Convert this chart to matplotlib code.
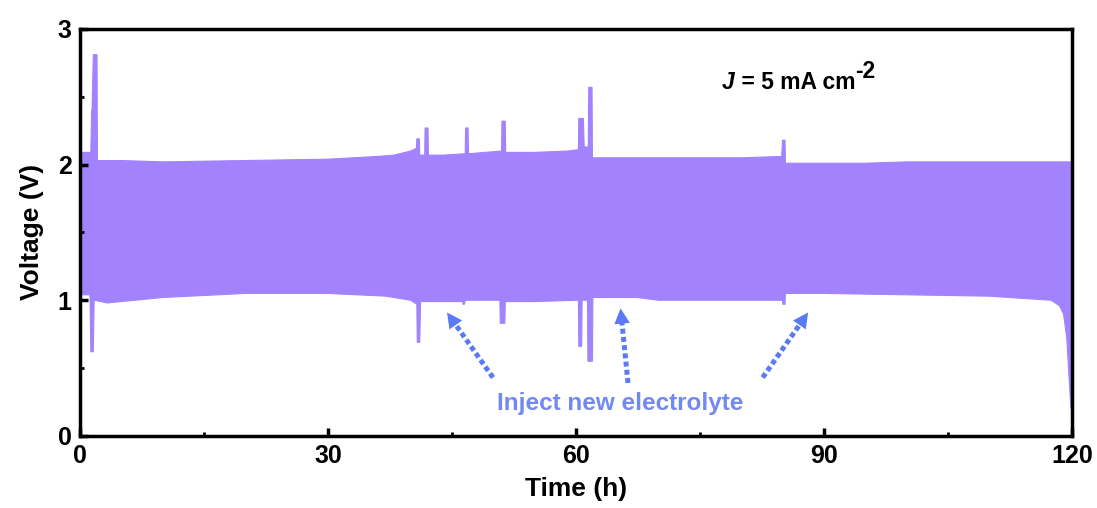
import numpy as np
import matplotlib.pyplot as plt

plt.rcParams['font.family'] = ['Liberation Sans', 'DejaVu Sans']
plt.rcParams['font.weight'] = 'bold'

# upper envelope of the voltage band (time in h, voltage in V)
t_up = [0, 1.2, 1.3, 1.4, 1.45, 1.6, 2.05, 2.1, 5, 10, 20, 30, 36, 38, 40,
        40.7, 40.75, 41.05, 41.1, 41.7, 41.75, 42.1, 42.15, 44, 46.6, 46.65,
        46.95, 47.0, 49, 51.0, 51.05, 51.45, 51.5, 55, 59, 60.3, 60.35, 60.9,
        61.0, 61.5, 61.55, 61.95, 62.0, 65, 70, 80, 84.9, 85.0, 85.3, 85.35,
        88, 95, 100, 110, 115, 119.8, 119.9]
v_up = [2.09, 2.09, 2.09, 2.40, 2.40, 2.81, 2.81, 2.03, 2.03, 2.02, 2.03, 2.04, 2.06, 2.07, 2.10,
        2.12, 2.19, 2.19, 2.07, 2.07, 2.27, 2.27, 2.07, 2.07, 2.08, 2.27,
        2.27, 2.08, 2.09, 2.10, 2.32, 2.32, 2.09, 2.09, 2.10, 2.11, 2.34, 2.34,
        2.13, 2.13, 2.57, 2.57, 2.05, 2.05, 2.05, 2.05, 2.06, 2.18, 2.18, 2.01,
        2.01, 2.01, 2.02, 2.02, 2.02, 2.02, 2.02]

# lower envelope of the voltage band
t_lo = [0, 1.2, 1.3, 1.6, 1.7, 3.3, 10, 20, 30, 37, 40, 40.75, 40.8, 41.1, 41.2,
        44, 46.3, 46.35, 46.5, 46.6, 50.8, 50.85, 51.4, 51.45, 55, 60.3, 60.35,
        60.7, 60.75, 61.4, 61.45, 62.0, 62.05, 67.4, 70, 80, 85.0, 85.05, 85.3,
        85.35, 90, 100, 110, 117.5, 118.5, 119.0, 119.4, 119.7, 119.9]
v_lo = [1.04, 1.04, 0.62, 0.62, 1.0, 0.98, 1.02, 1.05, 1.05, 1.03, 1.00, 0.97, 0.69, 0.69, 0.99,
        0.99, 0.99, 0.97, 0.97, 1.0, 1.0, 0.83, 0.83, 0.99, 0.99, 1.0, 0.66,
        0.66, 1.0, 1.0, 0.55, 0.55, 1.02, 1.02, 1.0, 1.0, 1.0, 0.97, 0.97,
        1.05, 1.05, 1.04, 1.03, 1.0, 0.96, 0.90, 0.72, 0.40, 0.20]

arrow_tails = [(49.96, 0.43), (66.3, 0.39), (82.6, 0.43)]
arrow_heads = [(44.4, 0.91), (65.4, 0.94), (88.1, 0.91)]

band_color = '#a283fd'
arrow_color = '#5b7af5'

fig = plt.figure(figsize=(10.97, 5.08), dpi=100)
ax = fig.add_axes([0.073, 0.142, 0.904, 0.801])

band_x = np.concatenate([t_up, t_lo[::-1]])
band_y = np.concatenate([v_up, v_lo[::-1]])
ax.fill(band_x, band_y, color=band_color, lw=0.8, ec=band_color)

for tail, head in zip(arrow_tails, arrow_heads):
    tail = np.array(tail)
    head = np.array(head)
    stop = tail + 0.88 * (head - tail)
    ax.plot([tail[0], stop[0]], [tail[1], stop[1]], color=arrow_color, lw=3.6,
            linestyle=(0, (1, 0.65)), dash_capstyle='butt')
    ax.annotate('', xy=head, xytext=head - 0.02 * (head - tail),
                arrowprops=dict(arrowstyle='-|>,head_length=0.55,head_width=0.28',
                                lw=0, color=arrow_color, mutation_scale=20,
                                shrinkA=0, shrinkB=0))

ax.text(65.3, 0.24, 'Inject new electrolyte', color='#7288f3', fontsize=17.5,
        fontweight='bold', ha='center', va='center')

j_txt = ax.text(77.7, 2.56, 'J', fontsize=16.5, fontweight='bold', fontstyle='italic',
                ha='left', va='baseline')
eq_txt = ax.annotate(' = 5 mA cm', xy=(1, 0), xycoords=j_txt, fontsize=16.5,
                     fontweight='bold', ha='left', va='bottom')
ax.annotate('-2', xy=(1, 0.45), xycoords=eq_txt, fontsize=16.5,
            fontweight='bold', ha='left', va='bottom')

ax.set_xlim(0, 120)
ax.set_ylim(0, 3)
ax.set_xticks([0, 30, 60, 90, 120])
ax.set_xticks([15, 45, 75, 105], minor=True)
ax.set_yticks([0, 1, 2, 3])
ax.set_yticks([0.5, 1.5, 2.5], minor=True)
ax.tick_params(which='major', direction='in', length=6, width=2.5, labelsize=18)
ax.tick_params(which='minor', direction='in', length=3, width=2)
ax.tick_params(axis='x', pad=6)
ax.tick_params(axis='y', pad=6)
for s in ax.spines.values():
    s.set_linewidth(2.5)
ax.set_xlabel('Time (h)', fontsize=19, fontweight='bold', labelpad=6)
ax.set_ylabel('Voltage (V)', fontsize=19, fontweight='bold', labelpad=10)

fig.savefig('out.png', dpi=100)
